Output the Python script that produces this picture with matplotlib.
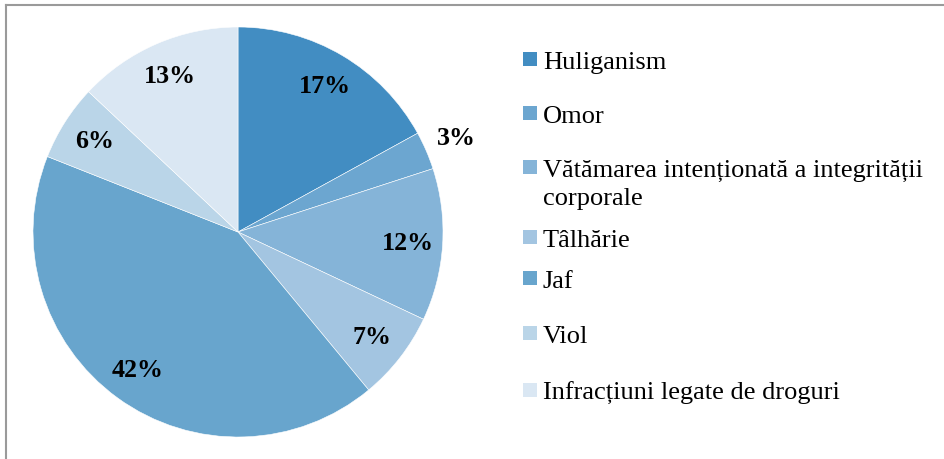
import numpy as np
import matplotlib
matplotlib.use("Agg")
import matplotlib.pyplot as plt
from matplotlib.lines import Line2D
from matplotlib.patches import Rectangle

categories = ["Huliganism", "Omor", "Vătămarea intenționată a integrității\ncorporale",
              "Tâlhărie", "Jaf", "Viol", "Infracțiuni legate de droguri"]
shares = [17, 3, 12, 7, 42, 6, 13]
colors = ["#428dc2", "#6ca6d0", "#85b4d8", "#a3c5e1", "#68a5cd", "#bad5e8", "#dae7f3"]

plt.rcParams['font.family'] = ['Liberation Serif', 'DejaVu Serif']

W, H = 945, 460
fig = plt.figure(figsize=(W / 100, H / 100), dpi=100)

# pie axes: centre (238, 233), radius 205 px
cx, cy, r = 238, 233, 205
ax = fig.add_axes([(cx - r) / W, (H - cy - r) / H, 2 * r / W, 2 * r / H])
wedges, _ = ax.pie(shares, colors=colors, startangle=90, counterclock=False,
                   radius=1, wedgeprops=dict(edgecolor="white", linewidth=0.4))
ax.set_xlim(-1, 1)
ax.set_ylim(-1, 1)
ax.set_aspect("equal")
ax.axis("off")

for w, v in zip(wedges, shares):
    mid = np.deg2rad((w.theta1 + w.theta2) / 2)
    d = 1.16 if v < 5 else 0.83
    ax.text(d * np.cos(mid), d * np.sin(mid), f"{v}%", ha="center", va="center",
            fontsize=18.7, fontweight="bold", color="black")

# legend, laid out by hand (baseline y in px)
baselines = [69, 123, 177, 247, 288, 343, 400]
for lab, col, b in zip(categories, colors, baselines):
    fig.add_artist(Rectangle((523 / W, 1 - (b - 2) / H), 14 / W, 14 / H,
                             transform=fig.transFigure, facecolor=col, edgecolor="none"))
    lines = lab.split("\n")
    for i, ln in enumerate(lines):
        fig.text(543 / W, 1 - (b + 28 * i) / H, ln, ha="left", va="baseline",
                 fontsize=19, color="black")

# frame edges (left and top only visible)
fig.add_artist(Line2D([6 / W, 6 / W], [0, 1 - 6 / H], transform=fig.transFigure,
                      color="#9a9a9a", linewidth=1.5))
fig.add_artist(Line2D([6 / W, 1], [1 - 6 / H, 1 - 6 / H], transform=fig.transFigure,
                      color="#9a9a9a", linewidth=1.5))

fig.savefig("out.png", dpi=100)
